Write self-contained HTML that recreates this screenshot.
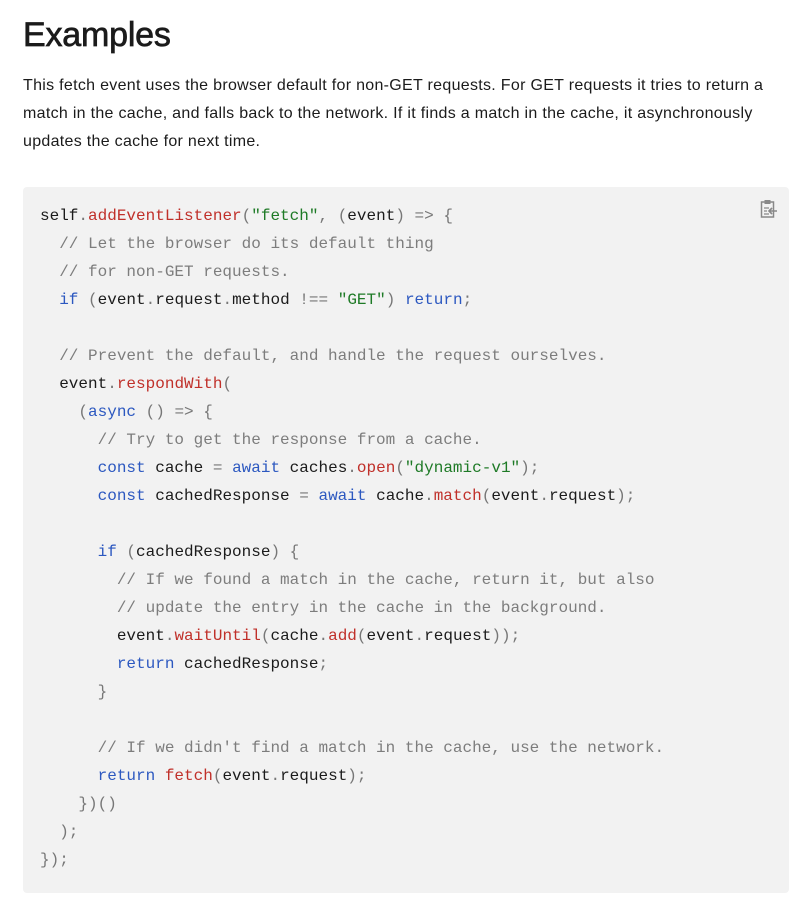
<!DOCTYPE html>
<html><head><style>
body{margin:0;background:#fff;width:809px;height:918px;overflow:hidden;font-family:"Liberation Sans",sans-serif;color:#1b1b1b}
h1{position:absolute;left:23px;top:16px;margin:0;font-size:34px;font-weight:normal;-webkit-text-stroke:0.7px #1b1b1b;letter-spacing:-0.2px}
p{position:absolute;left:23px;top:72px;width:770px;margin:0;font-size:16px;line-height:28px;letter-spacing:0.3px}
.box{position:absolute;left:23px;top:187px;width:766px;height:706px;background:#f2f2f2;border-radius:4px}
pre{position:absolute;left:40px;top:202px;margin:0;font-family:"Liberation Mono",monospace;font-size:16px;line-height:28px;color:#1b1b1b}
.f{color:#c0302a}.s{color:#1e7a26}.k{color:#2c58c0}.c{color:#7d7d7d}.p{color:#777}
</style></head><body>
<h1>Examples</h1>
<p>This fetch event uses the browser default for non-GET requests. For GET requests it tries to return a match in the cache, and falls back to the network. If it finds a match in the cache, it asynchronously updates the cache for next time.</p>
<div class="box"></div>
<svg style="position:absolute;left:760px;top:199px" width="18" height="20" viewBox="0 0 18 20"><rect x="1.5" y="3" width="12" height="15" fill="none" stroke="#888" stroke-width="1.5"/><rect x="4.5" y="1" width="6" height="4" fill="#888"/><path d="M4 9h5M4 12h3M4 15h5" stroke="#888" stroke-width="1.3"/><path d="M17 12h-7M12 9l-3 3 3 3" stroke="#888" stroke-width="1.6" fill="none"/></svg>
<pre>self<span class="p">.</span><span class="f">addEventListener</span><span class="p">(</span><span class="s">"fetch"</span><span class="p">,</span> <span class="p">(</span>event<span class="p">)</span> <span class="p">=&gt;</span> <span class="p">{</span>
  <span class="c">// Let the browser do its default thing</span>
  <span class="c">// for non-GET requests.</span>
  <span class="k">if</span> <span class="p">(</span>event<span class="p">.</span>request<span class="p">.</span>method <span class="p">!==</span> <span class="s">"GET"</span><span class="p">)</span> <span class="k">return</span><span class="p">;</span>

  <span class="c">// Prevent the default, and handle the request ourselves.</span>
  event<span class="p">.</span><span class="f">respondWith</span><span class="p">(</span>
    <span class="p">(</span><span class="k">async</span> <span class="p">()</span> <span class="p">=&gt;</span> <span class="p">{</span>
      <span class="c">// Try to get the response from a cache.</span>
      <span class="k">const</span> cache <span class="p">=</span> <span class="k">await</span> caches<span class="p">.</span><span class="f">open</span><span class="p">(</span><span class="s">"dynamic-v1"</span><span class="p">);</span>
      <span class="k">const</span> cachedResponse <span class="p">=</span> <span class="k">await</span> cache<span class="p">.</span><span class="f">match</span><span class="p">(</span>event<span class="p">.</span>request<span class="p">);</span>

      <span class="k">if</span> <span class="p">(</span>cachedResponse<span class="p">)</span> <span class="p">{</span>
        <span class="c">// If we found a match in the cache, return it, but also</span>
        <span class="c">// update the entry in the cache in the background.</span>
        event<span class="p">.</span><span class="f">waitUntil</span><span class="p">(</span>cache<span class="p">.</span><span class="f">add</span><span class="p">(</span>event<span class="p">.</span>request<span class="p">));</span>
        <span class="k">return</span> cachedResponse<span class="p">;</span>
      <span class="p">}</span>

      <span class="c">// If we didn't find a match in the cache, use the network.</span>
      <span class="k">return</span> <span class="f">fetch</span><span class="p">(</span>event<span class="p">.</span>request<span class="p">);</span>
    <span class="p">})()</span>
  <span class="p">);</span>
<span class="p">});</span></pre>
</body></html>
